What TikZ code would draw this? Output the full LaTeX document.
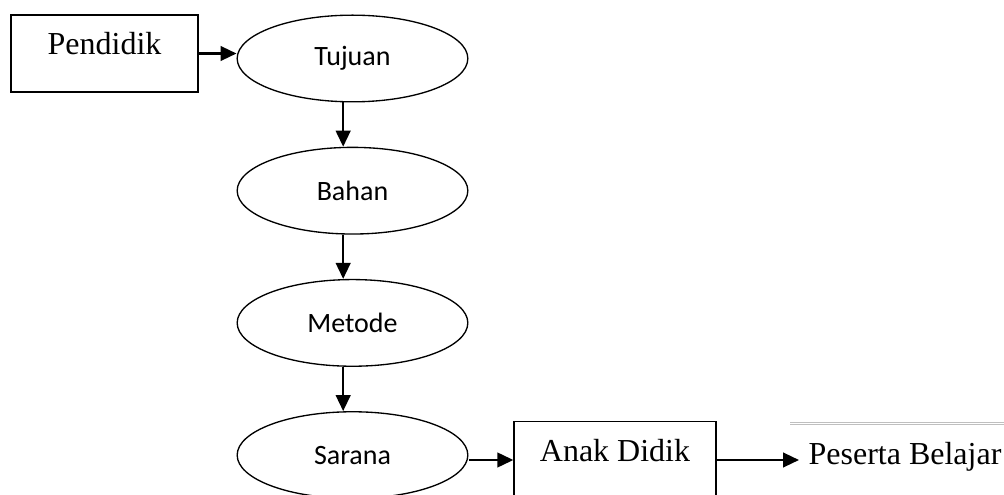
\documentclass[tikz,border=0pt]{standalone}
\usepackage{fontspec}
\setmainfont{Liberation Serif}
\newfontfamily\calibri{Carlito}
\usetikzlibrary{shapes.geometric, arrows.meta}

\begin{document}
\begin{tikzpicture}[x=0.75pt, y=-0.75pt]
        \def\col{352.5}
        \def\vert{132.2}
        \tikzstyle{place}=[ellipse, draw=black, line width=1pt, minimum width=173pt, minimum height=65pt, inner sep=0pt, font=\calibri\fontsize{21}{25}\selectfont]
        \tikzstyle{box}=[rectangle, draw=black, line width=1pt, inner sep=0pt, text height=30pt, text depth=27.75pt, font=\fontsize{24}{28}\selectfont]
        \tikzstyle{arr}=[-{Triangle[length=12pt, width=11pt]}, line width=1.7pt]

        \useasboundingbox (0,0) rectangle (1004,495);

        % Nodes
        \node[box, minimum width=140.25pt] (p) at (104.5, 53.5) {Pendidik};

        \node[place] (t) at (\col, 58.5 + 0 * \vert) {Tujuan};
        \node[place] (b) at (\col, 58.5 + 1 * \vert) {Bahan};
        \node[place] (m) at (\col, 58.5 + 2 * \vert) {Metode};
        \node[place] (s) at (\col, 58.5 + 3 * \vert) {Sarana};

        \node[box, minimum width=151.5pt] (ad) at (615, 460) {Anak Didik};
        \node[anchor=west, inner xsep=7pt, inner ysep=0pt, font=\fontsize{24}{28}\selectfont] (pb) at (799, 456.5) {Peserta Belajar};

        % thin rule at the right
        \draw[black!25, double=white, double distance=0.75pt, line width=0.75pt] (790, 423.7) -- (1004, 423.7);

        % Edges
        \draw[arr] (p.east) -- (p.east -| t.west);

        \draw[arr] ([xshift=-7pt]t.south) -- ([xshift=-7pt]b.north);
        \draw[arr] ([xshift=-7pt]b.south) -- ([xshift=-7pt]m.north);
        \draw[arr] ([xshift=-7pt]m.south) -- ([xshift=-7pt]s.north);

        \draw[arr] (s.east |- ad.west) -- (ad.west);
        \draw[arr] (ad.east) -- (ad.east -| pb.west);

    \end{tikzpicture}
\end{document}
